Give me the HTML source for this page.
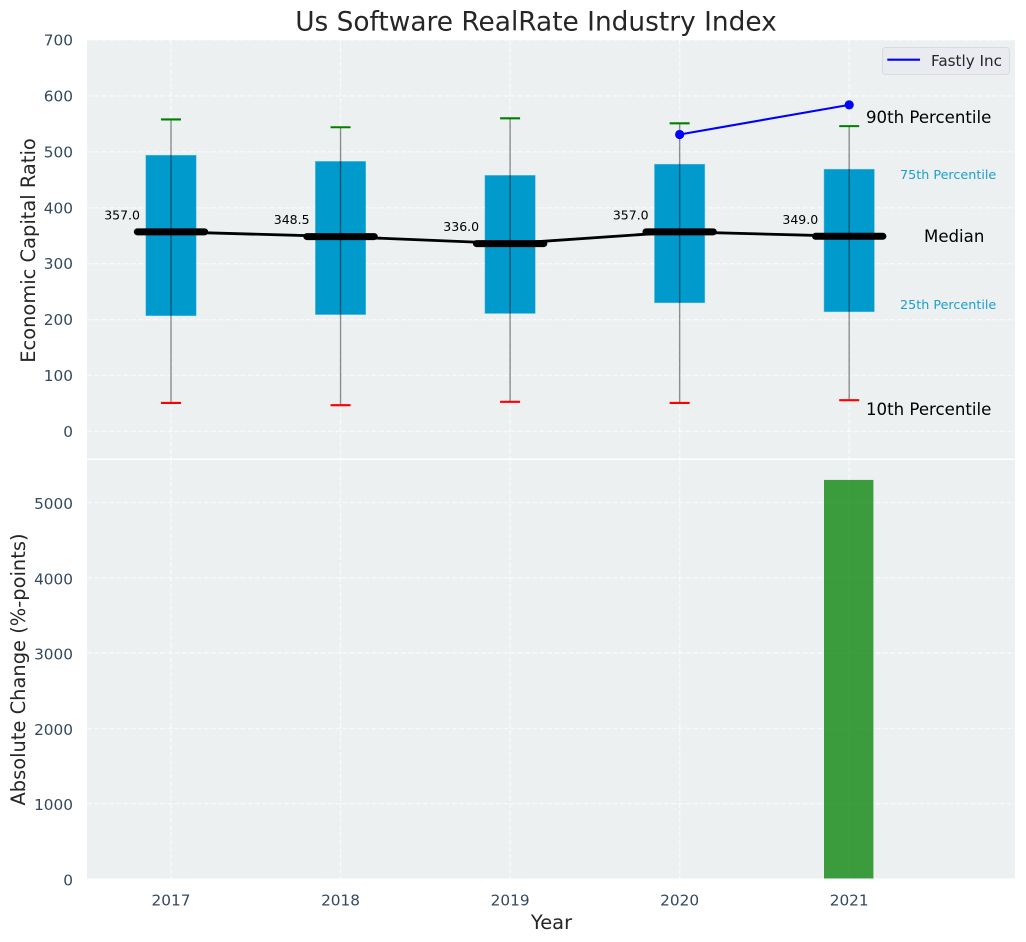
<!DOCTYPE html>
<html lang="en">
<head>
<meta charset="utf-8">
<title>Us Software RealRate Industry Index</title>
<style>
html,body{margin:0;padding:0;background:#fff;width:1026px;height:942px;overflow:hidden}
svg{display:block;font-family:"DejaVu Sans","Liberation Sans",sans-serif}
</style>
</head>
<body>
<svg id="chart" xmlns="http://www.w3.org/2000/svg" width="1026" height="942" viewBox="0 0 1026 942">
  <rect x="0" y="0" width="1026" height="942" fill="#ffffff"/>
  <rect x="87" y="40" width="928" height="418.5" fill="#ecf0f1"/>
  <rect x="87" y="460" width="928" height="418.5" fill="#ecf0f1"/>
  <g id="grid"></g>
  <g id="marks"></g>
  <g id="ticks"></g>
  <text x="536" y="30.5" text-anchor="middle" font-size="26.4px" fill="#262626">Us Software RealRate Industry Index</text>
  <text transform="translate(35 250.5) rotate(-90)" text-anchor="middle" font-size="19.45px" fill="#262626">Economic Capital Ratio</text>
  <text transform="translate(25 669.5) rotate(-90)" text-anchor="middle" font-size="19.45px" fill="#262626">Absolute Change (%-points)</text>
  <text x="551.5" y="929" text-anchor="middle" font-size="19.45px" fill="#262626">Year</text>
  <text x="866" y="123" font-size="16.6px" fill="#000">90th Percentile</text>
  <text x="900" y="179" font-size="12.75px" fill="#1a9fd0">75th Percentile</text>
  <text x="924" y="242" font-size="16.6px" fill="#000">Median</text>
  <text x="900" y="309" font-size="12.75px" fill="#1a9fd0">25th Percentile</text>
  <text x="866" y="415" font-size="16.6px" fill="#000">10th Percentile</text>
  <g>
    <rect x="882.5" y="47.5" width="127" height="27" rx="3" fill="#e9ebf1" stroke="#d9dbe0" stroke-width="1"/>
    <line x1="887.3" y1="59.7" x2="920" y2="59.7" stroke="#0000ff" stroke-width="2.1"/>
    <text x="931" y="66" font-size="15.2px" fill="#262626">Fastly Inc</text>
  </g>
</svg>
<script>
const years = [2017, 2018, 2019, 2020, 2021];
const p10 = [51, 47, 53, 51, 56];
const p25 = [207, 209, 211, 230, 214];
const medians = [357, 348.5, 336, 357, 349];
const p75 = [494, 483, 458, 478, 469];
const p90 = [558, 544, 560, 551, 546];
const fastlyYears = [2020, 2021];
const fastlyValues = [531, 584];
const changeYears = [2021];
const changeValues = [5300];
const topTicks = [0, 100, 200, 300, 400, 500, 600, 700];
const bottomTicks = [0, 1000, 2000, 3000, 4000, 5000];

const NS = 'http://www.w3.org/2000/svg';
const xScale = v => 171 + (v - 2017) * 169.55;
const yTop = v => 431.5 - v * 0.5593;
const yBottom = v => 879 - v * 0.0753;
const gridG = document.getElementById('grid');
const marksG = document.getElementById('marks');
const ticksG = document.getElementById('ticks');

function make(parent, tag, attrs, text) {
  const el = document.createElementNS(NS, tag);
  for (const k in attrs) el.setAttribute(k, attrs[k]);
  if (text !== undefined) el.textContent = text;
  parent.appendChild(el);
  return el;
}
const gridStyle = {stroke: '#ffffff', 'stroke-width': 1.39, 'stroke-dasharray': '5.1 2.2', opacity: 0.65};
const tickStyle = {'font-size': '15.3px', fill: '#34495e'};

topTicks.forEach(t => {
  const g = make(gridG, 'line', {x1: 87, x2: 1015, y1: yTop(t), y2: yTop(t), ...gridStyle});
  
  
  const l = make(ticksG, 'text', {x: 73, y: yTop(t) + 5.5, 'text-anchor': 'end', ...tickStyle}, String(t));
  
  
});
bottomTicks.filter(t => t > 0).forEach(t => {
  const g = make(gridG, 'line', {x1: 87, x2: 1015, y1: yBottom(t), y2: yBottom(t), ...gridStyle});
  
  
});
bottomTicks.forEach(t => {
  const l = make(ticksG, 'text', {x: 73, y: yBottom(t) + 6.5, 'text-anchor': 'end', ...tickStyle}, String(t));
  
  
});
years.forEach(y => {
  const g1 = make(gridG, 'line', {x1: xScale(y), x2: xScale(y), y1: 40, y2: 458.5, ...gridStyle});
  
  
  const g2 = make(gridG, 'line', {x1: xScale(y), x2: xScale(y), y1: 460, y2: 878.5, ...gridStyle});
  
  
  const l = make(ticksG, 'text', {x: xScale(y), y: 905.5, 'text-anchor': 'middle', ...tickStyle}, String(y));
  
  
});

years.forEach((y, i) => {
  const cx = xScale(y);
  const box = make(marksG, 'rect', {x: cx - 25.2, width: 50.4, y: yTop(p75[i]), height: yTop(p25[i]) - yTop(p75[i]), fill: '#009acd', stroke: '#6cc3e0', 'stroke-width': 0.5});
  
  
  const whisker = make(marksG, 'line', {x1: cx, x2: cx, y1: yTop(p90[i]), y2: yTop(p10[i]), stroke: 'rgba(0,0,0,0.43)', 'stroke-width': 1.39});
  
  
  const capHigh = make(marksG, 'line', {x1: cx - 10, x2: cx + 10, y1: yTop(p90[i]), y2: yTop(p90[i]), stroke: '#008000', 'stroke-width': 2.1});
  
  
  const capLow = make(marksG, 'line', {x1: cx - 10, x2: cx + 10, y1: yTop(p10[i]), y2: yTop(p10[i]), stroke: '#ff0000', 'stroke-width': 2.1});
  
  
});

const medianPath = make(marksG, 'polyline', {points: years.map((y, i) => xScale(y) + ',' + yTop(medians[i])).join(' '), fill: 'none', stroke: '#000', 'stroke-width': 2.8});



years.forEach((y, i) => {
  const cx = xScale(y);
  const bar = make(marksG, 'line', {x1: cx - 33.7, x2: cx + 33.7, y1: yTop(medians[i]), y2: yTop(medians[i]), stroke: '#000', 'stroke-width': 7, 'stroke-linecap': 'round'});
  
  
  const label = make(marksG, 'text', {x: cx - 31, y: yTop(medians[i]) - 12.5, 'text-anchor': 'end', 'font-size': '12.5px', fill: '#000'}, medians[i].toFixed(1));
  
  
});

const fastlyLine = make(marksG, 'polyline', {points: fastlyYears.map((y, i) => xScale(y) + ',' + yTop(fastlyValues[i])).join(' '), fill: 'none', stroke: '#0000ff', 'stroke-width': 2.1});


fastlyYears.forEach((y, i) => {
  const dot = make(marksG, 'circle', {cx: xScale(y), cy: yTop(fastlyValues[i]), r: 4.6, fill: '#0000ff'});
  
  
});

changeYears.forEach((y, i) => {
  const bar = make(marksG, 'rect', {x: xScale(y) - 25.2, width: 49.4, y: yBottom(changeValues[i]), height: 878.5 - yBottom(changeValues[i]), fill: 'rgba(0,128,0,0.75)'});
  
  
});
</script>
</body>
</html>
